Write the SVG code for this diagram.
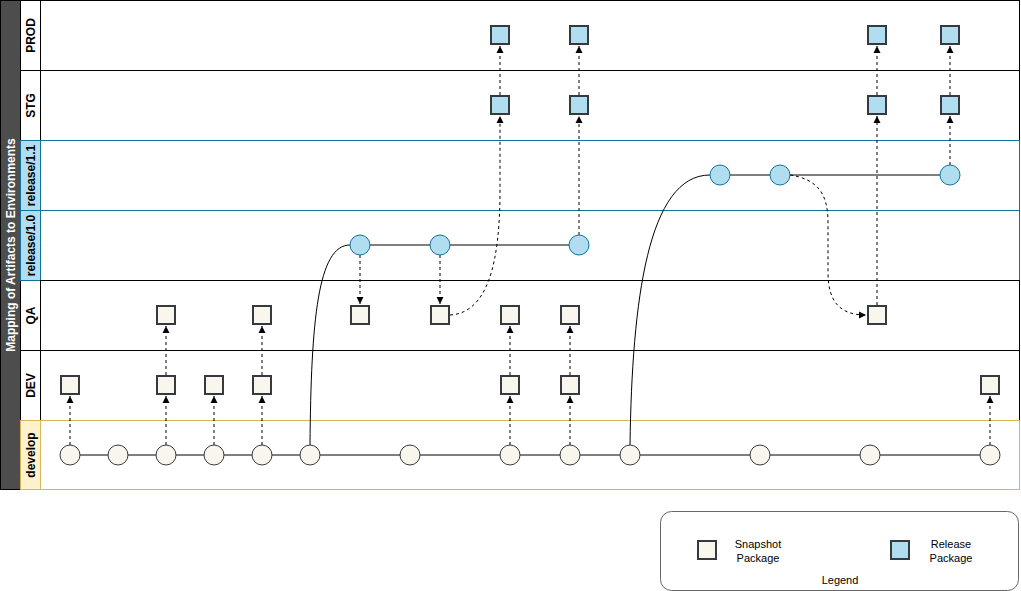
<svg xmlns="http://www.w3.org/2000/svg" width="1021" height="591" viewBox="0 0 1021 591">
<style>
.lbl{font-family:"Liberation Sans",Arial,sans-serif;font-size:12px;font-weight:bold;fill:#000;text-anchor:middle}
.title{font-family:"Liberation Sans",Arial,sans-serif;font-size:12px;font-weight:bold;fill:#fff;text-anchor:middle}
.snap{fill:#f9f7ed;stroke:#36393d;stroke-width:2}
.rel{fill:#b1ddf0;stroke:#36393d;stroke-width:2}
.dc{fill:#f9f7ed;stroke:#36393d;stroke-width:1}
.rc{fill:#b1ddf0;stroke:#10739e;stroke-width:1}
.solid{fill:none;stroke:#000;stroke-width:1}
.dash{fill:none;stroke:#000;stroke-width:1;stroke-dasharray:3 3}
.leg{font-family:"Liberation Sans",Arial,sans-serif;font-size:11px;fill:#000;text-anchor:middle}
</style>
<defs>
<marker id="ah" markerWidth="8" markerHeight="8" refX="7" refY="4" orient="auto" markerUnits="userSpaceOnUse">
<path d="M0,0.5 L7,4 L0,7.5 Z" fill="#000"/>
</marker>
</defs>
<rect width="1021" height="591" fill="#fff"/>
<g id="pool">
<rect x="0.5" y="0.5" width="20" height="489" fill="#4d4d4d" stroke="#000"/>
<text class="title" transform="translate(14.5,245) rotate(-90)">Mapping of Artifacts to Environments</text>
</g>
<g id="lane-prod">
<rect x="20.5" y="0.5" width="999" height="70" fill="#fff" stroke="#000"/>
<rect x="20.5" y="0.5" width="20" height="70" fill="#fff" stroke="#000"/>
<text class="lbl" transform="translate(34.5,35.5) rotate(-90)">PROD</text>
</g>
<g id="lane-stg">
<rect x="20.5" y="70.5" width="999" height="70" fill="#fff" stroke="#000"/>
<rect x="20.5" y="70.5" width="20" height="70" fill="#fff" stroke="#000"/>
<text class="lbl" transform="translate(34.5,105.5) rotate(-90)">STG</text>
</g>
<g id="lane-qa">
<rect x="20.5" y="280.5" width="999" height="70" fill="#fff" stroke="#000"/>
<rect x="20.5" y="280.5" width="20" height="70" fill="#fff" stroke="#000"/>
<text class="lbl" transform="translate(34.5,315.5) rotate(-90)">QA</text>
</g>
<g id="lane-dev">
<rect x="20.5" y="350.5" width="999" height="70" fill="#fff" stroke="#000"/>
<rect x="20.5" y="350.5" width="20" height="70" fill="#fff" stroke="#000"/>
<text class="lbl" transform="translate(34.5,385.5) rotate(-90)">DEV</text>
</g>
<g id="lane-release11">
<rect x="20.5" y="140.5" width="999" height="70" fill="#fff" stroke="#10739e"/>
<rect x="20.5" y="140.5" width="20" height="70" fill="#b1ddf0" stroke="#10739e"/>
<text class="lbl" transform="translate(34.5,175.5) rotate(-90)">release/1.1</text>
</g>
<g id="lane-release10">
<rect x="20.5" y="210.5" width="999" height="70" fill="#fff" stroke="#10739e"/>
<rect x="20.5" y="210.5" width="20" height="70" fill="#b1ddf0" stroke="#10739e"/>
<line x1="40" y1="280.5" x2="1020" y2="280.5" stroke="#000"/>
<text class="lbl" transform="translate(34.5,245.5) rotate(-90)">release/1.0</text>
</g>
<g id="lane-develop">
<rect x="20.5" y="420.5" width="999" height="69" fill="#fff" stroke="#d6b656"/>
<rect x="20.5" y="420.5" width="20" height="69" fill="#fff2cc" stroke="#d6b656"/>
<text class="lbl" transform="translate(34.5,455) rotate(-90)">develop</text>
</g>
<g id="connectors">
<path class="solid" d="M80,455 H108 M128,455 H156 M176,455 H204 M224,455 H252 M272,455 H300 M320,455 H400 M420,455 H500 M520,455 H560 M580,455 H620 M640,455 H750 M770,455 H860 M880,455 H980"/>
<path class="solid" d="M370,245 H430 M450,245 H569"/>
<path class="solid" d="M730,175 H770 M790,175 H940"/>
<path class="solid" d="M310,445 C311,320 318,245 350,245"/>
<path class="solid" d="M630,445 C632,300 648,175 710,175"/>
<g marker-end="url(#ah)">
<path class="dash" d="M70,445 V396"/>
<path class="dash" d="M166,445 V396"/>
<path class="dash" d="M214,445 V396"/>
<path class="dash" d="M262,445 V396"/>
<path class="dash" d="M510,445 V396"/>
<path class="dash" d="M570,445 V396"/>
<path class="dash" d="M990,445 V396"/>
<path class="dash" d="M166,375 V326"/>
<path class="dash" d="M262,375 V326"/>
<path class="dash" d="M510,375 V326"/>
<path class="dash" d="M570,375 V326"/>
<path class="dash" d="M360,255 V304"/>
<path class="dash" d="M440,255 V304"/>
<path class="dash" d="M450,315 C488,313 500,262 500,190 V116"/>
<path class="dash" d="M500,95 V46"/>
<path class="dash" d="M579,235 V116"/>
<path class="dash" d="M579,95 V46"/>
<path class="dash" d="M790,175 C816,179 828,192 828,222 V272 C828,302 840,315 866,315"/>
<path class="dash" d="M877,305 V116"/>
<path class="dash" d="M877,95 V46"/>
<path class="dash" d="M950,165 V116"/>
<path class="dash" d="M950,95 V46"/>
</g>
</g>
<g id="develop-commits">
<circle class="dc" cx="70" cy="455" r="10"/>
<circle class="dc" cx="118" cy="455" r="10"/>
<circle class="dc" cx="166" cy="455" r="10"/>
<circle class="dc" cx="214" cy="455" r="10"/>
<circle class="dc" cx="262" cy="455" r="10"/>
<circle class="dc" cx="310" cy="455" r="10"/>
<circle class="dc" cx="410" cy="455" r="10"/>
<circle class="dc" cx="510" cy="455" r="10"/>
<circle class="dc" cx="570" cy="455" r="10"/>
<circle class="dc" cx="630" cy="455" r="10"/>
<circle class="dc" cx="760" cy="455" r="10"/>
<circle class="dc" cx="870" cy="455" r="10"/>
<circle class="dc" cx="990" cy="455" r="10"/>
</g>
<g id="release10-commits">
<circle class="rc" cx="360" cy="245" r="10"/>
<circle class="rc" cx="440" cy="245" r="10"/>
<circle class="rc" cx="579" cy="245" r="10"/>
</g>
<g id="release11-commits">
<circle class="rc" cx="720" cy="175" r="10"/>
<circle class="rc" cx="780" cy="175" r="10"/>
<circle class="rc" cx="950" cy="175" r="10"/>
</g>
<g id="dev-packages">
<rect class="snap" x="61" y="376" width="18" height="18"/>
<rect class="snap" x="157" y="376" width="18" height="18"/>
<rect class="snap" x="205" y="376" width="18" height="18"/>
<rect class="snap" x="253" y="376" width="18" height="18"/>
<rect class="snap" x="501" y="376" width="18" height="18"/>
<rect class="snap" x="561" y="376" width="18" height="18"/>
<rect class="snap" x="981" y="376" width="18" height="18"/>
</g>
<g id="qa-packages">
<rect class="snap" x="157" y="306" width="18" height="18"/>
<rect class="snap" x="253" y="306" width="18" height="18"/>
<rect class="snap" x="351" y="306" width="18" height="18"/>
<rect class="snap" x="431" y="306" width="18" height="18"/>
<rect class="snap" x="501" y="306" width="18" height="18"/>
<rect class="snap" x="561" y="306" width="18" height="18"/>
<rect class="snap" x="868" y="306" width="18" height="18"/>
</g>
<g id="stg-packages">
<rect class="rel" x="491" y="96" width="18" height="18"/>
<rect class="rel" x="570" y="96" width="18" height="18"/>
<rect class="rel" x="868" y="96" width="18" height="18"/>
<rect class="rel" x="941" y="96" width="18" height="18"/>
</g>
<g id="prod-packages">
<rect class="rel" x="491" y="26" width="18" height="18"/>
<rect class="rel" x="570" y="26" width="18" height="18"/>
<rect class="rel" x="868" y="26" width="18" height="18"/>
<rect class="rel" x="941" y="26" width="18" height="18"/>
</g>
<g id="legend">
<rect x="660.5" y="511.5" width="358" height="79" rx="11" fill="#fff" stroke="#666"/>
<rect class="snap" x="698" y="541" width="18" height="18"/>
<text class="leg" x="758" y="548">Snapshot</text>
<text class="leg" x="758" y="562">Package</text>
<rect class="rel" x="891" y="541" width="18" height="18"/>
<text class="leg" x="951" y="548">Release</text>
<text class="leg" x="951" y="562">Package</text>
<text class="leg" x="840" y="584">Legend</text>
</g>
</svg>
